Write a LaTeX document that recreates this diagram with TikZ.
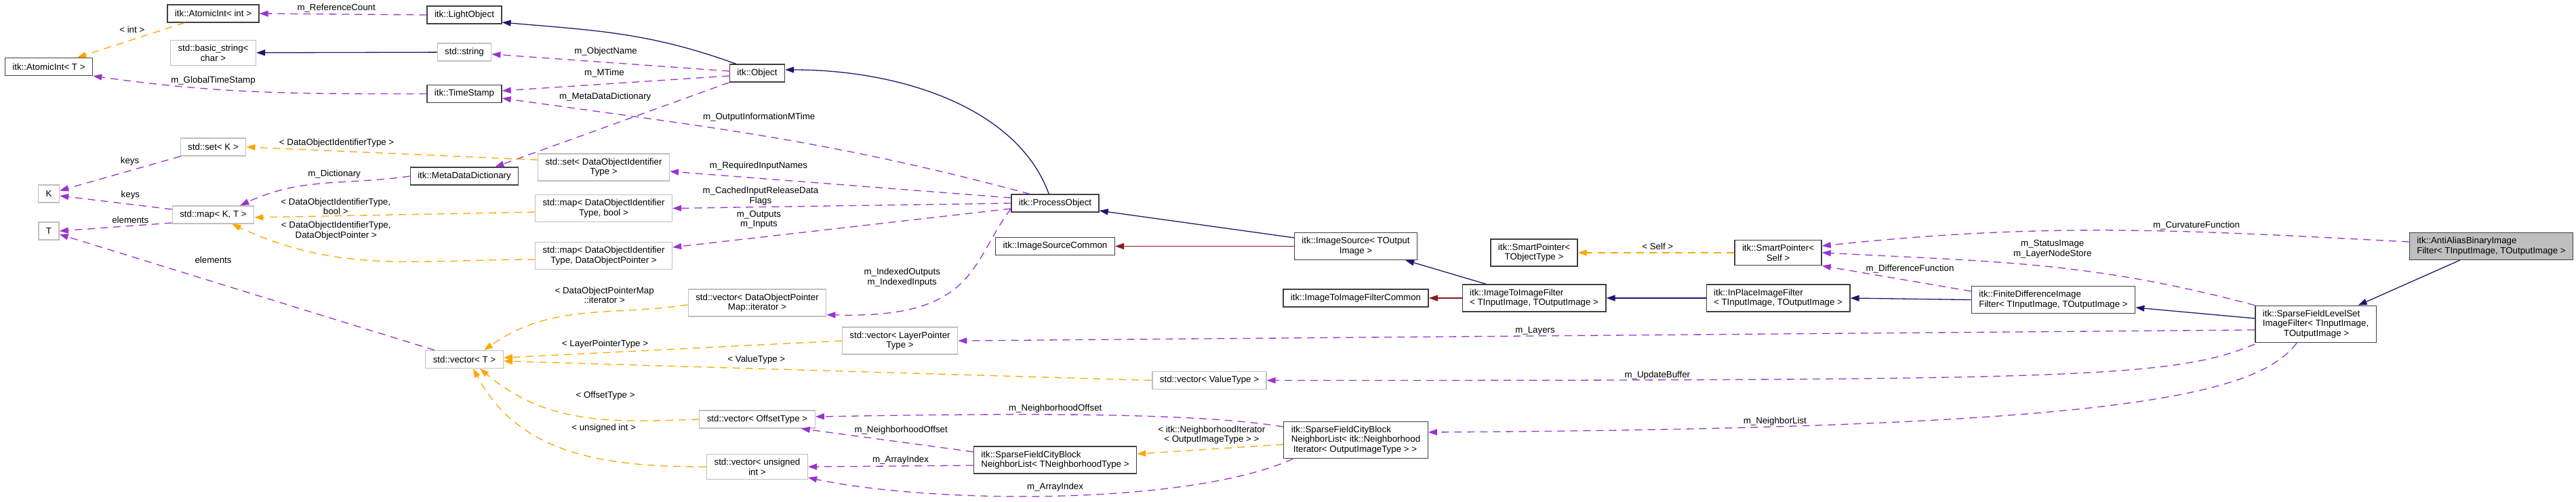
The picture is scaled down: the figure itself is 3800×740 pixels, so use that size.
\documentclass[tikz,border=0pt]{standalone}
\usepackage{fontspec}
\setmainfont{Liberation Sans}
\usepackage{xcolor}
\usepackage{tikz}
\usetikzlibrary{arrows.meta, positioning}
\definecolor{edgeblue}{HTML}{191970}
\definecolor{edgered}{HTML}{8B1A1A}
\definecolor{edgepurple}{HTML}{9A32CD}
\definecolor{edgeorange}{HTML}{FFA500}
\definecolor{boxgray}{HTML}{BFBFBF}
\tikzstyle{itkbox} = [rectangle, draw=black!75, line width=1.3pt, fill=white, inner xsep=11pt, inner ysep=6.5pt, minimum height=26pt, align=center]
\tikzstyle{itkboxl} = [itkbox, align=left]
\tikzstyle{stdbox} = [itkbox, draw=boxgray]
\tikzstyle{mainbox} = [itkboxl, fill=boxgray]
\tikzstyle{inherit} = [line width=1.3pt, draw=edgeblue, -{Triangle[length=13pt,width=9pt]}]
\tikzstyle{privinherit} = [inherit, draw=edgered]
\tikzstyle{usage} = [line width=1.3pt, draw=edgepurple, dash pattern=on 11pt off 8pt, -{Triangle[length=13pt,width=9pt]}]
\tikzstyle{templ} = [usage, draw=edgeorange]
\tikzstyle{edgelabel} = [inner sep=0pt, align=center, text=black]

\begin{document}
\begin{tikzpicture}[x=1pt, y=1pt, on grid, every node/.style={font=\fontsize{13.3}{14.5}\selectfont}]
    \useasboundingbox (0,0) rectangle (3800,-740);

    % === LEFT SIDE: base templates ===
    \node (aint) [itkbox] at (314.5,-20) {itk::AtomicInt< int >};
    \node (bstr) [stdbox, below=58pt of aint] {std::basic\_string<\\char >};
    \node (setk) [stdbox, below=139pt of bstr] {std::set< K >};
    \node (mapkt) [stdbox, below=100pt of setk] {std::map< K, T >};
    \node (aintT) [itkbox, below left=78.5pt and 242.5pt of aint] {itk::AtomicInt< T >};
    \node (k) [stdbox, below=187.5pt of aintT] {K};
    \node (t) [stdbox, below=55pt of k] {T};

    % LightObject column
    \node (lo) [itkbox, below right=2pt and 370.5pt of aint] {itk::LightObject};
    \node (str) [stdbox, below=55pt of lo] {std::string};
    \node (ts) [itkbox, below=61.5pt of str] {itk::TimeStamp};
    \node (mdd) [itkbox, below=121.5pt of ts] {itk::MetaDataDictionary};
    \node (vt) [stdbox, below=270.5pt of mdd] {std::vector< T >};

    % DataObject containers
    \node (sdoit) [stdbox, above right=13pt and 205.5pt of mdd] {std::set< DataObjectIdentifier\\Type >};
    \node (mdb) [stdbox, below=60.5pt of sdoit] {std::map< DataObjectIdentifier\\Type, bool >};
    \node (mdp) [stdbox, below=70pt of mdb] {std::map< DataObjectIdentifier\\Type, DataObjectPointer >};

    % Object column
    \node (obj) [itkbox, below right=86pt and 432pt of lo] {itk::Object};
    \node (vdpm) [stdbox, below=339pt of obj] {std::vector< DataObjectPointer\\Map::iterator >};
    \node (vot) [stdbox, below=172pt of vdpm] {std::vector< OffsetType >};
    \node (vui) [stdbox, below=70pt of vot] {std::vector< unsigned\\int >};
    \node (vlp) [stdbox, below right=56pt and 210.5pt of vdpm] {std::vector< LayerPointer\\Type >};

    % ProcessObject column
    \node (po) [itkbox, above right=7.5pt and 666pt of mdb] {itk::ProcessObject};
    \node (isc) [itkbox, below=63.5pt of po] {itk::ImageSourceCommon};
    \node (sfcbt) [itkboxl, below=315.5pt of isc] {itk::SparseFieldCityBlock\\NeighborList< TNeighborhoodType >};
    \node (vvt) [stdbox, above right=117.5pt and 227.5pt of sfcbt] {std::vector< ValueType >};

    % === RIGHT SIDE: filter chain ===
    \node (is) [itkbox, right=443.5pt of isc] {itk::ImageSource< TOutput\\Image >};
    \node (itifc) [itkbox, below=76.5pt of is] {itk::ImageToImageFilterCommon};
    \node (sfcbni) [itkboxl, below=209.5pt of itifc] {itk::SparseFieldCityBlock\\NeighborList< itk::Neighborhood\\\hspace*{3pt}Iterator< OutputImageType > >};
    \node (itif) [itkboxl, right=263pt of itifc] {itk::ImageToImageFilter\\< TInputImage, TOutputImage >};
    \node (spt) [itkbox, above=67pt of itif] {itk::SmartPointer<\\TObjectType >};
    \node (ipf) [itkboxl, right=360pt of itif] {itk::InPlaceImageFilter\\< TInputImage, TOutputImage >};
    \node (sps) [itkbox, right=360pt of spt] {itk::SmartPointer<\\Self >};
    \node (fd) [itkboxl, below right=2.5pt and 406pt of ipf] {itk::FiniteDifferenceImage\\Filter< TInputImage, TOutputImage >};
    \node (sfls) [itkboxl, below right=36pt and 387pt of fd] {itk::SparseFieldLevelSet\\ImageFilter< TInputImage,\\\hspace*{31pt}TOutputImage >};
    \node (aa) [mainbox, above right=79pt and 646pt of fd] {itk::AntiAliasBinaryImage\\Filter< TInputImage, TOutputImage >};

    % === INHERITANCE ===
    \draw [inherit] (str) -- (bstr);
    \draw [inherit] ([xshift=10pt]obj.north west) to[out=160, in=-5] ([yshift=-11pt]lo.east);
    \draw [inherit] ([xshift=56pt]po.north west) .. controls +(-46,127) and +(171,0) .. ([yshift=5pt]obj.east);
    \draw [inherit] ([yshift=-8pt]is.north west) -- ([yshift=-11pt]po.east);
    \draw [privinherit] (is.west) -- (isc.east);
    \draw [inherit] ([xshift=36pt]itif.north west) -- ([xshift=-18pt]is.south east);
    \draw [privinherit] (itif.west) -- (itifc.east);
    \draw [inherit] (ipf.west) -- (itif.east);
    \draw [inherit] (fd.west) -- (ipf.east);
    \draw [inherit] ([yshift=8.5pt]sfls.west) -- ([yshift=-11.5pt]fd.east);
    \draw [inherit] (aa) -- (sfls);

    % === MEMBERS AND TEMPLATE ARGUMENTS ===

    % LightObject / Object
    \draw [usage] (lo.west) -- node[edgelabel, pos=.54, yshift=9pt] (lRef) {m\_ReferenceCount} (aint.east);
    \draw [templ] (aint) -- node[edgelabel, pos=.49, yshift=15pt] (lInt) {< int >} (aintT);
    \draw [usage] (ts.west) to[out=180, in=-8] node[edgelabel, pos=.65, yshift=12pt] (lGlobal) {m\_GlobalTimeStamp} (aintT.south east);
    \draw [usage] ([yshift=3pt]obj.west) -- node[edgelabel, pos=.52, yshift=16pt] (lName) {m\_ObjectName} ([yshift=-3pt]str.east);
    \draw [usage] ([yshift=-4pt]obj.west) -- node[edgelabel, pos=.55, yshift=16pt] (lMTime) {m\_MTime} ([yshift=4.5pt]ts.east);
    \draw [usage] (obj.south west) -- node[edgelabel, pos=.53, yshift=45pt] (lMeta) {m\_MetaDataDictionary} ([xshift=-35pt]mdd.north east);
    \draw [usage] ([xshift=28pt]po.north west) to[out=165, in=-8] node[edgelabel, pos=.51, xshift=-6pt, yshift=28pt] (lOutInfo) {m\_OutputInformationMTime} ([yshift=-6.5pt]ts.east);

    % std::set / std::map
    \draw [templ] ([yshift=11pt]sdoit.west) -- node[edgelabel, pos=.69, yshift=12pt] (lSetK) {< DataObjectIdentifierType >} (setk.east);
    \draw [usage] (setk) -- node[edgelabel, pos=.42, yshift=14pt] (lKeys1) {keys} (k);
    \draw [usage] ([yshift=8pt]mapkt.west) -- node[edgelabel, pos=.37, yshift=14pt] (lKeys2) {keys} ([yshift=-3pt]k.east);
    \draw [usage] ([yshift=-12pt]mapkt.west) -- node[edgelabel, pos=.37, yshift=9pt] (lElem1) {elements} (t.east);
    \draw [usage] (mdd.west) to[out=188, in=25] node[edgelabel, pos=.45, xshift=5pt, yshift=13pt] (lDict) {m\_Dictionary} ([xshift=-21pt]mapkt.north east);
    \draw [templ] ([yshift=-5.5pt]mdb.west) -- node[edgelabel, pos=.71, yshift=14pt] (lMapB) {< DataObjectIdentifierType,\\bool >} ([yshift=-4pt]mapkt.east);
    \draw [templ] ([yshift=-5.5pt]mdp.west) to[out=180, in=-25] node[edgelabel, pos=.7, xshift=20pt, yshift=34pt] (lMapP) {< DataObjectIdentifierType,\\DataObjectPointer >} ([xshift=-33pt]mapkt.south east);

    % ProcessObject members
    \draw [usage] ([yshift=8pt]po.west) -- node[edgelabel, pos=.74, yshift=18pt] (lReq) {m\_RequiredInputNames} ([yshift=-6pt]sdoit.east);
    \draw [usage] (po.west) -- node[edgelabel, pos=.74, yshift=16pt] (lCached) {m\_CachedInputReleaseData\\Flags} (mdb.east);
    \draw [usage] ([yshift=-8pt]po.west) -- node[edgelabel, pos=.745, yshift=26pt] (lOutputs) {m\_Outputs\\m\_Inputs} ([yshift=12.5pt]mdp.east);
    \draw [usage] ([yshift=-8pt]po.west) .. controls +(-60,-80) and +(221,-6) .. node[edgelabel, pos=.5, xshift=-85pt, yshift=9pt] (lIndexed) {m\_IndexedOutputs\\m\_IndexedInputs} ([yshift=3pt]vdpm.south east);

    % std::vector instances
    \draw [usage] (vt) -- node[edgelabel, pos=.59, yshift=32pt] (lElem2) {elements} (t);
    \draw [templ] ([yshift=-3pt]vdpm.west) to[out=188, in=35] node[edgelabel, pos=.4, xshift=6pt, yshift=25pt] (lIter) {< DataObjectPointerMap\\::iterator >} ([xshift=29pt]vt.north);
    \draw [templ] (vlp.west) -- node[edgelabel, pos=.7, yshift=12pt] (lLayerT) {< LayerPointerType >} ([yshift=2.5pt]vt.east);
    \draw [templ] (vvt.west) -- node[edgelabel, pos=.61, yshift=13pt] (lValT) {< ValueType >} ([yshift=-2.5pt]vt.east);
    \draw [templ] (vot.west) to[out=182, in=-40] node[edgelabel, pos=.4, xshift=3pt, yshift=35pt] (lOffT) {< OffsetType >} ([xshift=23pt]vt.south);
    \draw [templ] (vui.west) to[out=180, in=-62] node[edgelabel, pos=.35, xshift=-6pt, yshift=47pt] (lUInt) {< unsigned int >} ([xshift=13pt]vt.south);

    % filter members
    \draw [usage] ([yshift=-8pt]fd.north west) -- node[edgelabel, pos=.41, yshift=17pt] (lDiff) {m\_DifferenceFunction} (sps.south east);
    \draw [templ] (sps.west) -- node[edgelabel, pos=.49, yshift=9pt] (lSelf) {< Self >} (spt.east);
    \draw [usage] (sfls.north west) to[out=165, in=-3] node[edgelabel, pos=.48, xshift=6pt, yshift=26pt] (lStatus) {m\_StatusImage\\m\_LayerNodeStore} (sps.east);
    \draw [usage] ([yshift=6.5pt]aa.west) to[out=177, in=6] node[edgelabel, pos=.35, yshift=9pt] (lCurv) {m\_CurvatureFunction} ([yshift=10pt]sps.east);
    \draw [usage] ([yshift=-8.5pt]sfls.west) -- node[edgelabel, pos=.555, yshift=8pt] (lLayers) {m\_Layers} (vlp.east);
    \draw [usage] ([yshift=-29.5pt]sfls.west) .. controls +(-120,-50) and +(1200,0) .. node[edgelabel, pos=.81, yshift=7pt] (lUpd) {m\_UpdateBuffer} (vvt.east);
    \draw [usage] ([xshift=-28pt]sfls.south) .. controls +(-60,-80) and +(1000,6) .. node[edgelabel, pos=.8, yshift=8pt] (lNList) {m\_NeighborList} ([yshift=11.5pt]sfcbni.east);

    % city block neighbor lists
    \draw [templ] ([yshift=-6.5pt]sfcbni.west) -- node[edgelabel, pos=.49, yshift=21pt] (lNIter) {< itk::NeighborhoodIterator\\< OutputImageType > >} ([yshift=9pt]sfcbt.east);
    \draw [usage] ([yshift=19.5pt]sfcbni.west) .. controls +(-150,25) and +(200,3) .. node[edgelabel, pos=.5, xshift=-10pt, yshift=9pt] (lOff1) {m\_NeighborhoodOffset} ([yshift=4pt]vot.east);
    \draw [usage] ([yshift=12pt]sfcbt.west) -- node[edgelabel, pos=.42, yshift=18pt] (lOff2) {m\_NeighborhoodOffset} ([xshift=-21pt]vot.south east);
    \draw [usage] ([yshift=-8pt]sfcbt.west) -- node[edgelabel, pos=.44, yshift=9pt] (lIdx1) {m\_ArrayIndex} (vui.east);
    \draw [usage] ([xshift=14pt]sfcbni.south west) .. controls +(-150,-68) and +(190,-40) .. node[edgelabel, pos=.5, xshift=-8pt, yshift=13pt] (lIdx2) {m\_ArrayIndex} ([yshift=-16pt]vui.east);

\end{tikzpicture}
\end{document}
